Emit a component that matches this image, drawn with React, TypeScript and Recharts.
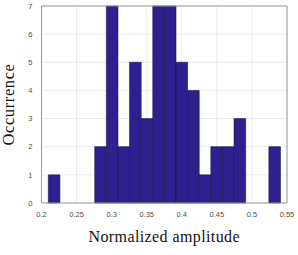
import React from "react";
import {
  ComposedChart,
  XAxis,
  YAxis,
  CartesianGrid,
  ReferenceArea,
  ReferenceLine,
} from "recharts";

// histogram bins (left edge, right edge) and counts
const binStart = 0.2097;
const binWidth = 0.01655;
const counts = [1, 0, 0, 0, 2, 7, 2, 5, 3, 7, 7, 5, 4, 1, 2, 2, 3, 0, 0, 2];
const xTicks = [0.2, 0.25, 0.3, 0.35, 0.4, 0.45, 0.5, 0.55];
const yTicks = [0, 1, 2, 3, 4, 5, 6, 7];

const bins = counts.map((c, i) => ({
  x1: binStart + i * binWidth,
  x2: binStart + (i + 1) * binWidth,
  count: c,
}));

const tickStyle = { fontSize: 7.5, fill: "#4d4d4d", fontFamily: "Liberation Sans" };
const labelFont = "Liberation Serif";

export default function App() {
  return (
    <div style={{ position: "absolute", left: 0, top: 0 }}>
      <ComposedChart
        width={298}
        height={255}
        data={bins}
        margin={{ top: 6, right: 11, bottom: 38, left: 0 }}
      >
        <CartesianGrid stroke="#e6e6e6" strokeWidth={0.8} />
        <XAxis
          type="number"
          dataKey="x1"
          domain={[0.2, 0.55]}
          ticks={xTicks}
          tickFormatter={(v) => String(v)}
          tick={tickStyle}
          tickLine={false}
          tickMargin={3}
          height={14}
          axisLine={{ stroke: "#9a9a9a" }}
          allowDataOverflow
          label={{
            value: "Normalized amplitude",
            position: "insideBottom",
            offset: -25,
            style: { fontSize: 16, fill: "#111", fontFamily: labelFont, letterSpacing: 0.4 },
          }}
        />
        <YAxis
          type="number"
          dataKey="count"
          domain={[0, 7]}
          ticks={yTicks}
          tick={tickStyle}
          tickLine={false}
          tickMargin={3}
          width={41.5}
          axisLine={{ stroke: "#9a9a9a" }}
          label={{
            value: "Occurrence",
            angle: -90,
            position: "insideLeft",
            offset: 8,
            style: { textAnchor: "middle", fontSize: 16.5, fill: "#111", fontFamily: labelFont, letterSpacing: 0.6 },
          }}
        />
        {bins
          .filter((b) => b.count > 0)
          .map((b, i) => (
            <ReferenceArea
              key={`bin-${i}`}
              x1={b.x1}
              x2={b.x2}
              y1={0}
              y2={b.count}
              fill="#2e2090"
              fillOpacity={1}
              stroke="#1a1a3a"
              strokeWidth={0.6}
              isAnimationActive={false}
            />
          ))}
        <ReferenceLine y={7} stroke="#9a9a9a" />
        <ReferenceLine x={0.55} stroke="#9a9a9a" />
      </ComposedChart>
    </div>
  );
}
